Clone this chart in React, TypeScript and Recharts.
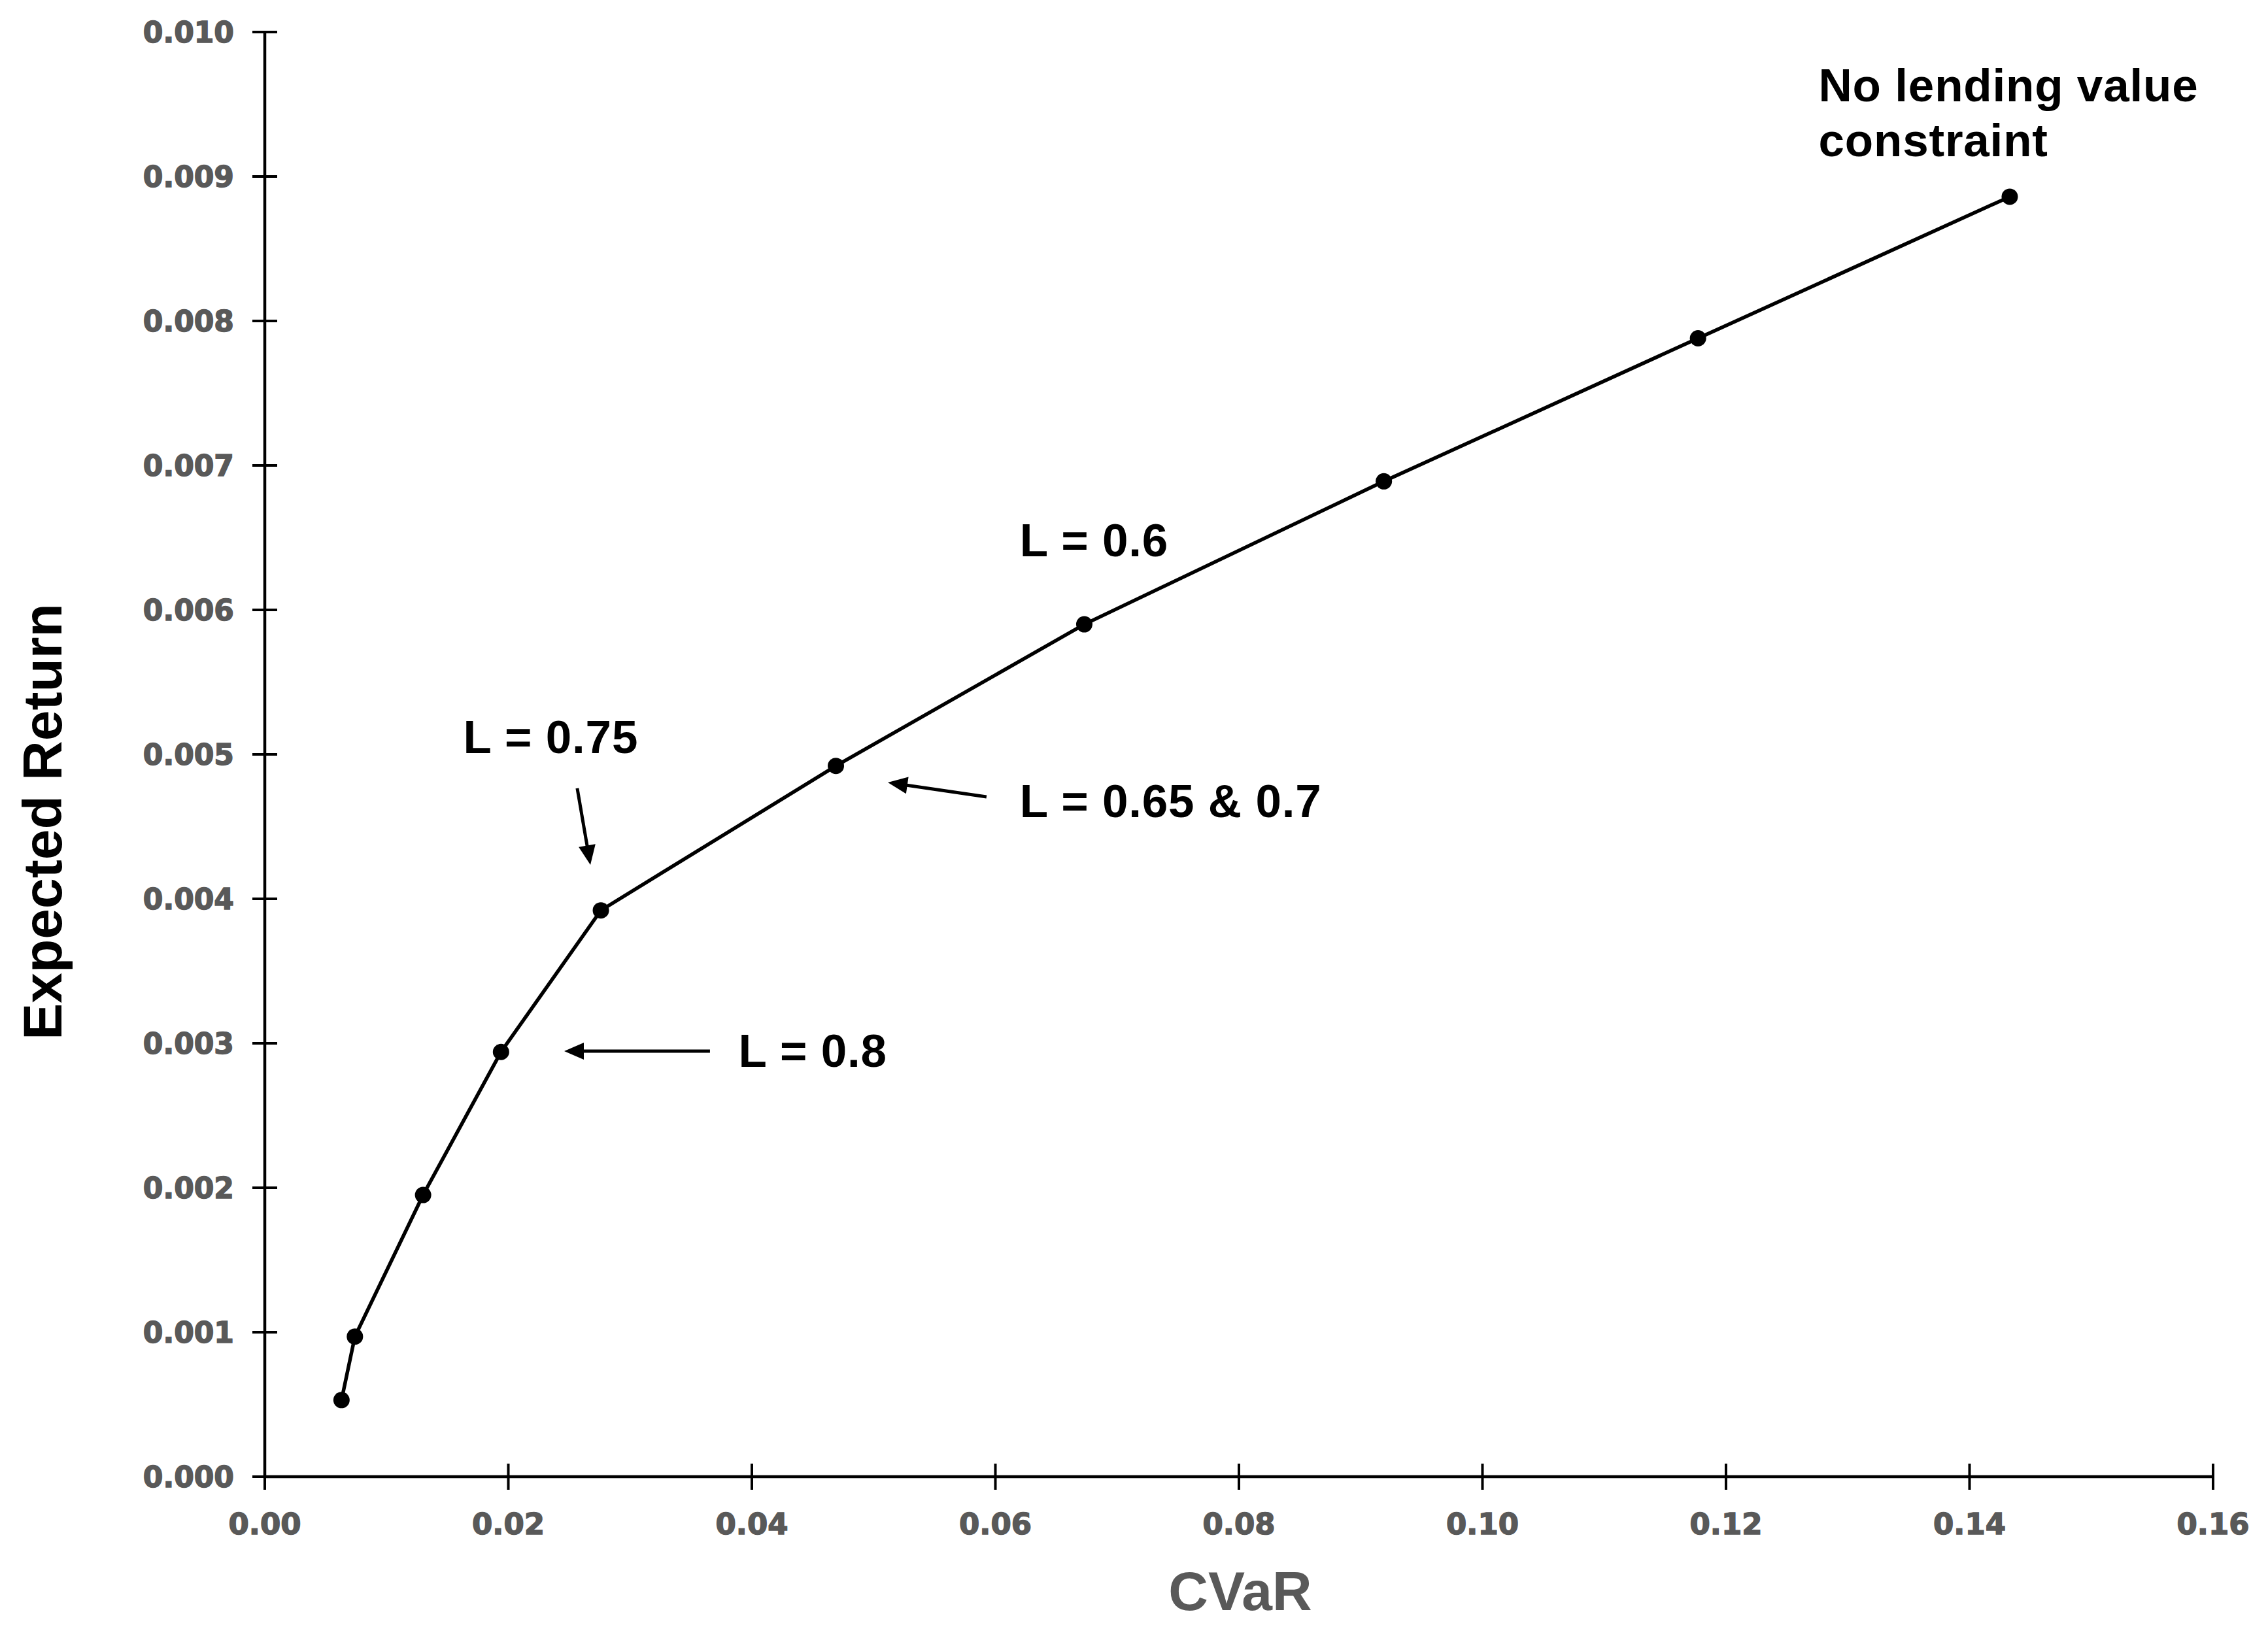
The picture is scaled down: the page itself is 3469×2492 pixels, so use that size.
import React from 'react'
import { LineChart, Line, XAxis, YAxis, ReferenceDot, ReferenceLine } from 'recharts'

// efficient frontier points
const cvar = [0.0063, 0.0074, 0.013, 0.0194, 0.0276, 0.0469, 0.0673, 0.0919, 0.1177, 0.1433]
const expectedReturn = [0.00053, 0.00097, 0.00195, 0.00294, 0.00392, 0.00492, 0.0059, 0.00689, 0.00788, 0.00886]

const xTicks = [0, 0.02, 0.04, 0.06, 0.08, 0.1, 0.12, 0.14, 0.16]
const yTicks = [0, 0.001, 0.002, 0.003, 0.004, 0.005, 0.006, 0.007, 0.008, 0.009, 0.01]

// annotation text, anchored at the left end of the baseline (data coords)
const notes = [
  { x: 0.1276, y: 0.00952, lines: ['No lending value', 'constraint'] },
  { x: 0.062, y: 0.00637, lines: ['L = 0.6'] },
  { x: 0.062, y: 0.004565, lines: ['L = 0.65 & 0.7'] },
  { x: 0.0163, y: 0.00501, lines: ['L = 0.75'] },
  { x: 0.0389, y: 0.002836, lines: ['L = 0.8'] },
]

// arrows: from -> tip (data coords)
const arrows = [
  { x1: 0.02566, y1: 0.004765, x2: 0.02674, y2: 0.004235 },
  { x1: 0.03656, y1: 0.002946, x2: 0.02459, y2: 0.002946 },
  { x1: 0.05927, y1: 0.004706, x2: 0.05117, y2: 0.004805 },
]

const rows = cvar.map((c, i) => ({ cvar: c, ret: expectedReturn[i] }))

const ARIAL = 'Liberation Sans, Arial, sans-serif'
const TICK_FONT = 'DejaVu Sans, Verdana, sans-serif'
const GREY = '#595959'

const XTick = (props: any) => {
  const { x, y, payload } = props
  return (
    <g>
      <line x1={x} x2={x} y1={y - 20} y2={y + 20} stroke="#000" strokeWidth={4} />
      <text x={x} y={y + 88} textAnchor="middle" fill={GREY} stroke={GREY} strokeWidth={1.5} fontFamily={TICK_FONT} fontWeight="bold" fontSize={45}>
        {Number(payload.value).toFixed(2)}
      </text>
    </g>
  )
}

const YTick = (props: any) => {
  const { x, y, payload } = props
  return (
    <g>
      <line x1={x - 19} x2={x + 19} y1={y} y2={y} stroke="#000" strokeWidth={4} />
      <text x={x - 47} y={y + 16} textAnchor="end" fill={GREY} stroke={GREY} strokeWidth={1.5} fontFamily={TICK_FONT} fontWeight="bold" fontSize={44}>
        {Number(payload.value).toFixed(3)}
      </text>
    </g>
  )
}

const Arrow = (props: any) => {
  const { x1, y1, x2, y2 } = props
  const dx = x2 - x1
  const dy = y2 - y1
  const len = Math.sqrt(dx * dx + dy * dy) || 1
  const ux = dx / len
  const uy = dy / len
  const head = 30
  const half = 13
  const bx = x2 - ux * head
  const by = y2 - uy * head
  return (
    <g>
      <line x1={x1} y1={y1} x2={bx + ux * 4} y2={by + uy * 4} stroke="#000" strokeWidth={5} />
      <polygon
        points={`${x2},${y2} ${bx - uy * half},${by + ux * half} ${bx + uy * half},${by - ux * half}`}
        fill="#000"
      />
    </g>
  )
}

export default function App() {
  return (
    <div style={{ position: 'absolute', left: 0, top: 0, background: '#fff' }}>
      <LineChart width={3469} height={2492} data={rows} margin={{ top: 49, right: 84, bottom: 33, left: 105 }}>
        <XAxis
          type="number"
          dataKey="cvar"
          domain={[0, 0.16]}
          ticks={xTicks}
          interval={0}
          height={200}
          tickSize={0}
          tickMargin={0}
          tickLine={false}
          axisLine={{ stroke: '#000', strokeWidth: 4.5 }}
          tick={<XTick />}
          label={{
            content: (p: any) => {
              const vb = p.viewBox
              return (
                <text x={vb.x + vb.width / 2 + 2} y={vb.y + 204} textAnchor="middle" fill={GREY} fontFamily={ARIAL} fontWeight="bold" fontSize={84}>
                  CVaR
                </text>
              )
            },
          }}
        />
        <YAxis
          type="number"
          domain={[0, 0.01]}
          ticks={yTicks}
          interval={0}
          width={300}
          tickSize={0}
          tickMargin={0}
          tickLine={false}
          axisLine={{ stroke: '#000', strokeWidth: 4.5 }}
          tick={<YTick />}
          label={{
            content: (p: any) => {
              const vb = p.viewBox
              const tx = vb.x + vb.width - 311
              const ty = vb.y + vb.height / 2 + 103
              return (
                <text x={tx} y={ty} transform={`rotate(-90 ${tx} ${ty})`} textAnchor="middle" fill="#000" fontFamily={ARIAL} fontWeight="bold" fontSize={84}>
                  Expected Return
                </text>
              )
            },
          }}
        />
        <Line
          type="linear"
          dataKey="ret"
          stroke="#000"
          strokeWidth={5.5}
          dot={{ r: 12.5, fill: '#000', stroke: 'none' }}
          activeDot={false}
          isAnimationActive={false}
        />
        {arrows.map((a, i) => (
          <ReferenceLine
            key={'a' + i}
            segment={[{ x: a.x1, y: a.y1 }, { x: a.x2, y: a.y2 }]}
            ifOverflow="visible"
            shape={(p: any) => <Arrow {...p} />}
          />
        ))}
        {notes.map((n, i) => (
          <ReferenceDot
            key={'n' + i}
            x={n.x}
            y={n.y}
            r={0}
            ifOverflow="visible"
            shape={(p: any) => (
              <text x={p.cx} y={p.cy} fill="#000" fontFamily={ARIAL} fontWeight="bold" fontSize={71} letterSpacing={0.8}>
                {n.lines.map((t, j) => (
                  <tspan key={j} x={p.cx} dy={j === 0 ? 0 : 84}>
                    {t}
                  </tspan>
                ))}
              </text>
            )}
          />
        ))}
      </LineChart>
    </div>
  )
}
